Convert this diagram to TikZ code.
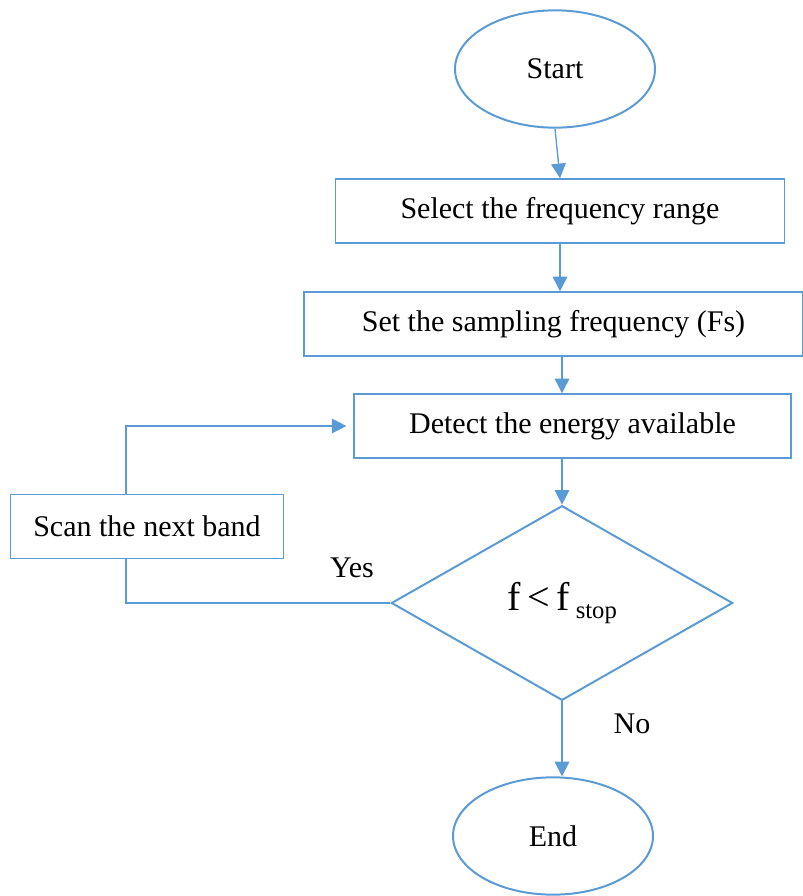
\documentclass[tikz,border=0pt]{standalone}
\usepackage{fontspec}
\setmainfont{Liberation Serif}
\usepackage{xcolor}
\usetikzlibrary{arrows.meta,shapes.geometric}

\definecolor{flowblue}{HTML}{5B9BD5}

\begin{document}
\begin{tikzpicture}[
    x=0.75pt,
    y=-0.75pt,
    font=\fontsize{22.5}{25}\selectfont,
    terminal/.style={
        ellipse,
        draw=flowblue,
        line width=1.5pt,
        minimum width=150pt,
        minimum height=88pt
    },
    process/.style={
        rectangle,
        draw=flowblue,
        line width=1.1pt,
        minimum width=#1,
        minimum height=48pt
    },
    decision/.style={
        diamond,
        draw=flowblue,
        line width=1.5pt,
        aspect=1.75,
        minimum width=256pt,
        minimum height=146pt,
        inner sep=0pt
    },
    flowarrow/.style={-{Triangle[length=11pt,width=11pt]}, line width=1pt, draw=flowblue},
    flowline/.style={line width=1pt, draw=flowblue}
]

\useasboundingbox (0,0) rectangle (803,896);

\node[terminal] (start) at (555,69) {Start};
\node[process=337pt] (select) at (560,211) {Select the frequency range};
\node[process=374pt] (sample) at (553.5,324) {Set the sampling frequency (Fs)};
\node[process=328pt] (detect) at (572.5,426) {Detect the energy available};
\node[decision] (check) at (562,603)
    {\fontsize{30}{31}\selectfont f\,<\,f\raisebox{-0.2em}{\fontsize{18.5}{20}\selectfont\ stop}};
\node[process=205pt] (scan) at (147,526.5) {Scan the next band};
\node[terminal] (stop) at (553,836) {End};

\node (yes) at (352,568) {Yes};
\node (no) at (632,724) {No};

\coordinate (loopx) at (126,0);

\draw[flowarrow] (start.south) -- (select.north);
\draw[flowarrow] (select.south) -- (select.south |- sample.north);
\draw[flowarrow] (sample.south -| check) -- (check |- detect.north);
\draw[flowarrow] (detect.south -| check) -- (check.north);
\draw[flowarrow] (check.south) -- (check.south |- stop.north);

\draw[flowline] (check.west) -| (scan.south -| loopx);
\draw[flowarrow, shorten >=5pt] (scan.north -| loopx) |- (detect.west);

\end{tikzpicture}
\end{document}
